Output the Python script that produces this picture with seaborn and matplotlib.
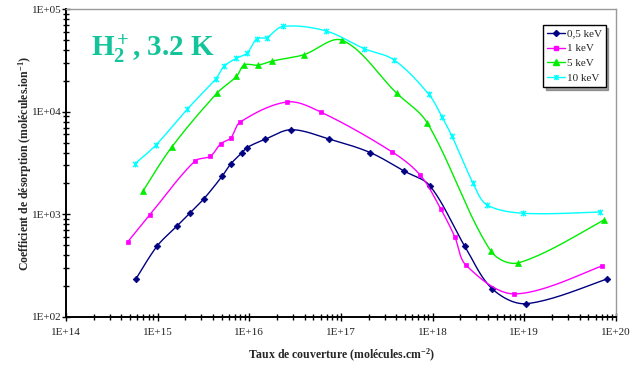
import numpy as np
import pandas as pd
import matplotlib
matplotlib.use("Agg")
import matplotlib.pyplot as plt
from matplotlib.lines import Line2D
from matplotlib.path import Path
import seaborn as sns

# Coverage (molecules/cm^2) and desorption yield (molecules/ion) per ion energy
cov_05 = [5.8e14, 9.9e14, 1.63e15, 2.23e15, 3.2e15, 5.03e15, 6.27e15, 8.26e15, 9.4e15,
          1.49e16, 2.87e16, 7.48e16, 2.09e17, 4.86e17, 9.31e17, 2.23e18, 4.44e18,
          1.04e19, 8.04e19]
yld_05 = [234, 491, 769, 1023, 1419, 2339, 3097, 3963, 4467,
          5395, 6683, 5408, 3992, 2642, 1897, 491, 188,
          134, 234]

cov_1 = [4.71e14, 8.24e14, 2.54e15, 3.77e15, 4.87e15, 6.27e15, 7.96e15, 2.59e16,
         6.0e16, 3.57e17, 7.33e17, 1.23e18, 1.74e18, 2.31e18, 7.71e18, 7.08e19]
yld_1 = [537, 991, 3296, 3692, 4871, 5548, 7943, 12470,
         9950, 4084, 2405, 1119, 604, 318, 167, 313]

cov_5 = [6.87e14, 1.42e15, 4.44e15, 7.24e15, 8.79e15, 1.24e16, 1.78e16, 3.9e16,
         1.03e17, 4.06e17, 8.71e17, 4.28e18, 8.53e18, 7.31e19]
yld_5 = [1668, 4508, 15200, 22130, 28650, 28510, 31260, 35970,
         49860, 15140, 7818, 441, 335, 873]

cov_10 = [5.66e14, 9.6e14, 2.1e15, 4.33e15, 5.3e15, 7.24e15, 9.49e15, 1.21e16, 1.54e16,
          2.31e16, 6.78e16, 1.79e17, 3.79e17, 9.06e17, 1.27e18, 1.63e18, 2.76e18,
          3.88e18, 9.6e18, 6.74e19]
yld_10 = [3111, 4745, 10590, 21090, 27850, 33270, 37500, 51760, 52850,
          67960, 61690, 41300, 32050, 14830, 8855, 5740, 2010,
          1241, 1023, 1052]

labels = ["0,5 keV", "1 keV", "5 keV", "10 keV"]
colors = ["#000080", "#FF00FF", "#00EE00", "#00FFFF"]

# Excel-style star marker: an "x" crossed by a vertical bar
star = Path([(-1, -1), (1, 1), (-1, 1), (1, -1), (0, -1.2), (0, 1.2)],
            [Path.MOVETO, Path.LINETO, Path.MOVETO, Path.LINETO, Path.MOVETO, Path.LINETO])
markers = ["D", "s", "^", star]
msizes = [3.4, 3.4, 4.8, 4.3]


def smooth_curve(x, y, n=24):
    """Bezier smoothing through the points in log-log space, with control
    arms scaled by neighbouring chord lengths to limit overshoot."""
    P = np.column_stack([np.log10(x), np.log10(y)])
    # rough screen aspect: one x decade is ~0.9 of a y decade in pixels
    scale = np.array([0.9, 1.0])
    S = P * scale
    m = len(S)
    tang = np.zeros_like(S)
    for i in range(m):
        a = S[max(i - 1, 0)]
        b = S[min(i + 1, m - 1)]
        tang[i] = b - a
    d = np.linalg.norm(np.diff(S, axis=0), axis=1)
    out = []
    t = np.linspace(0, 1, n)[:, None]
    for i in range(m - 1):
        p1, p2 = S[i], S[i + 1]
        dl = d[i - 1] if i > 0 else d[i]
        dr = d[i + 1] if i + 1 < m - 1 else d[i]
        k1 = d[i] / (dl + d[i]) if i > 0 else 0.5
        k2 = d[i] / (d[i] + dr) if i + 1 < m - 1 else 0.5
        c1 = p1 + tang[i] * k1 / 3.0
        c2 = p2 - tang[i + 1] * k2 / 3.0
        seg = ((1 - t) ** 3) * p1 + 3 * ((1 - t) ** 2) * t * c1 + 3 * (1 - t) * t ** 2 * c2 + t ** 3 * p2
        out.append(seg if i == 0 else seg[1:])
    pts = np.vstack(out) / scale
    return 10 ** pts[:, 0], 10 ** pts[:, 1]


sns.set_style("ticks")
plt.rcParams["font.family"] = ["Liberation Serif", "DejaVu Serif"]
plt.rcParams["mathtext.fontset"] = "custom"
plt.rcParams["mathtext.rm"] = "Liberation Serif"
plt.rcParams["mathtext.bf"] = "Liberation Serif:bold"
plt.rcParams["mathtext.it"] = "Liberation Serif:italic"

fig = plt.figure(figsize=(6.33, 3.67), dpi=100)
ax = fig.add_axes([66 / 633, 1 - 316.7 / 367, 550 / 633, 307.4 / 367])

series = [(cov_05, yld_05), (cov_1, yld_1), (cov_5, yld_5), (cov_10, yld_10)]
for (cx, cy), lab, col, mk, ms in zip(series, labels, colors, markers, msizes):
    sx, sy = smooth_curve(cx, cy)
    curve = pd.DataFrame({"x": sx, "y": sy})
    sns.lineplot(data=curve, x="x", y="y", sort=False, estimator=None,
                 color=col, linewidth=1.0, ax=ax)
    ax.plot(cx, cy, linestyle="none", marker=mk, markersize=ms, color=col,
            markeredgecolor=col, markeredgewidth=1.0 if mk is star else 0.5)

ax.set_xscale("log")
ax.set_yscale("log")
ax.set_xlim(1e14, 1e20)
ax.set_ylim(1e2, 1e5)

xt = [1e14, 1e15, 1e16, 1e17, 1e18, 1e19, 1e20]
yt = [1e2, 1e3, 1e4, 1e5]
ax.set_xticks(xt)
ax.set_xticklabels(["1E+14", "1E+15", "1E+16", "1E+17", "1E+18", "1E+19", "1E+20"])
ax.set_yticks(yt)
ax.set_yticklabels(["1E+02", "1E+03", "1E+04", "1E+05"])
ax.xaxis.set_minor_locator(matplotlib.ticker.LogLocator(base=10, subs=np.arange(2, 10)))
ax.yaxis.set_minor_locator(matplotlib.ticker.LogLocator(base=10, subs=np.arange(2, 10)))
ax.xaxis.set_minor_formatter(matplotlib.ticker.NullFormatter())
ax.yaxis.set_minor_formatter(matplotlib.ticker.NullFormatter())

ax.tick_params(axis="both", which="both", direction="inout", color="black", width=1.0,
               labelsize=8, labelcolor="#222222")
ax.tick_params(axis="both", which="major", length=5.5)
ax.tick_params(axis="both", which="minor", length=5.0)
ax.tick_params(axis="x", which="major", pad=5.5)
ax.tick_params(axis="y", which="major", pad=0.5)

for side in ["left", "bottom"]:
    ax.spines[side].set_color("black")
    ax.spines[side].set_linewidth(1.4)
for side in ["top", "right"]:
    ax.spines[side].set_visible(True)
    ax.spines[side].set_color("#9a9a9a")
    ax.spines[side].set_linewidth(1.0)

ax.set_xlabel(r"Taux de couverture (molécules.cm$^{\mathbf{-2}}$)", fontsize=8.5,
              fontweight="bold", labelpad=7)
ax.set_ylabel(r"Coefficient de désorption (molécules.ion$^{\mathbf{-1}}$)", fontsize=8.5,
              fontweight="bold")
ax.yaxis.set_label_coords(-0.058, 0.5)

ax.text(0.045, 0.845, r"$\mathbf{H_2^+}$, 3.2 K", transform=ax.transAxes,
        fontsize=21, fontweight="bold", color="#13c49a", ha="left", va="baseline")

handles = [Line2D([0], [0], color=c, marker=m, markersize=s * 0.9, linewidth=1.0,
                  markeredgecolor=c) for c, m, s in zip(colors, markers, msizes)]
leg = ax.legend(handles, labels, loc="upper left", bbox_to_anchor=(0.867, 0.949),
                borderaxespad=0, fontsize=8, frameon=True, fancybox=False,
                shadow=True, handlelength=1.6, handletextpad=0.2, labelspacing=0.45,
                borderpad=0.35)
leg.get_frame().set_edgecolor("black")
leg.get_frame().set_linewidth(1.0)

fig.savefig("out.png", dpi=100, facecolor="white")
